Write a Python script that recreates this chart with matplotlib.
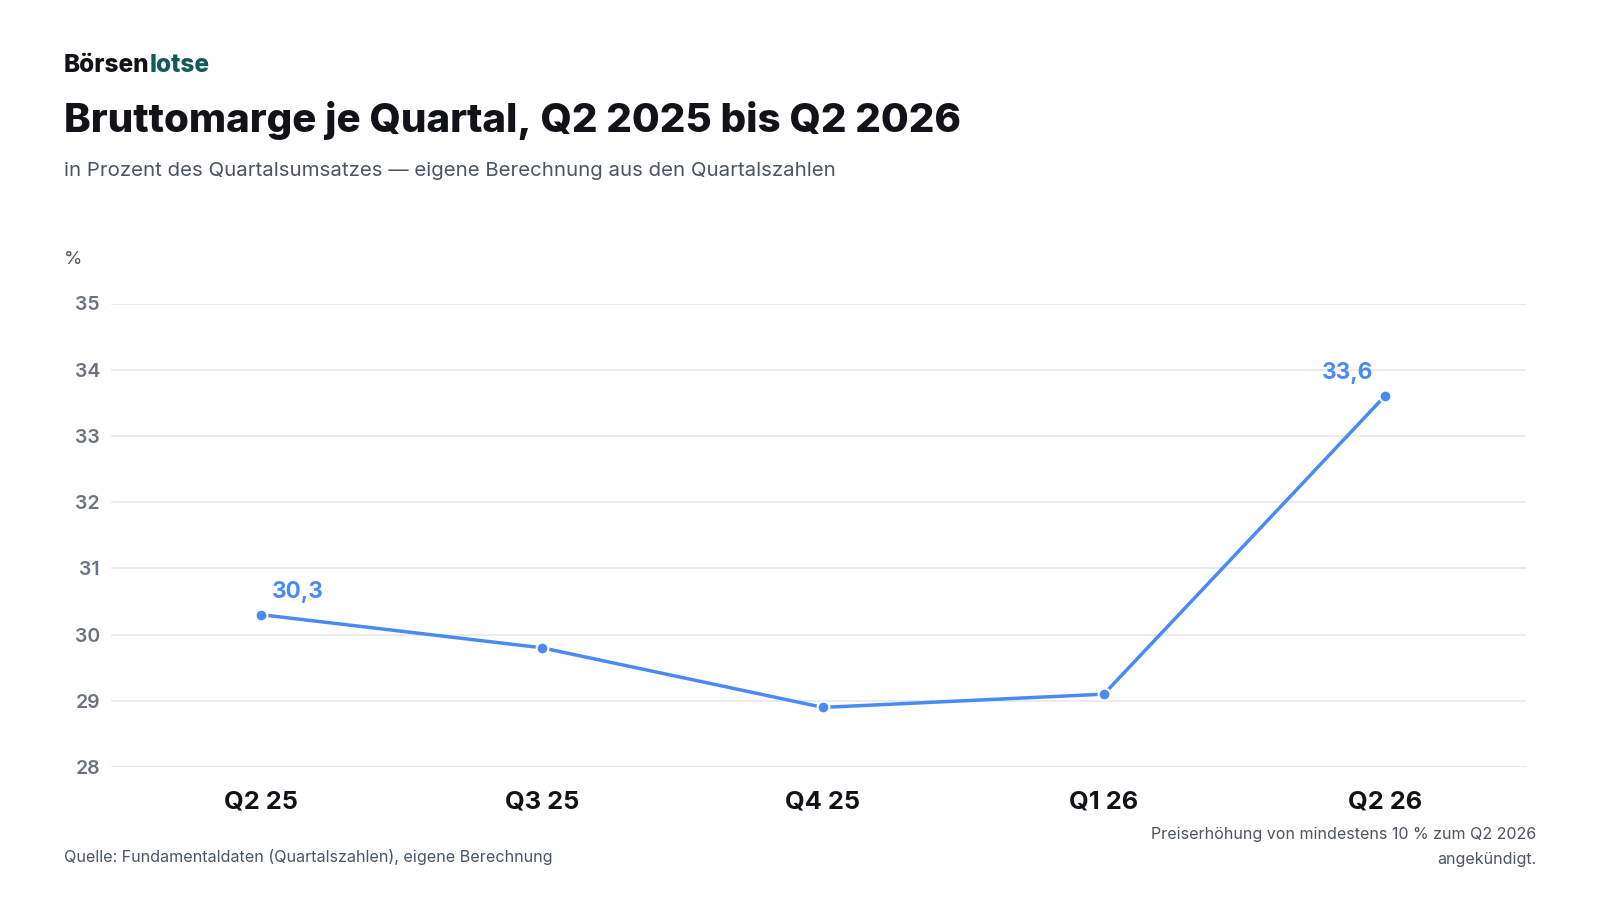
import matplotlib.pyplot as plt

plt.rcParams['font.family'] = ['Inter', 'DejaVu Sans']

# Bruttomarge je Quartal (in %)
quarters = ['Q2 25', 'Q3 25', 'Q4 25', 'Q1 26', 'Q2 26']
margin = [30.3, 29.8, 28.9, 29.1, 33.6]
y_ticks = [28, 29, 30, 31, 32, 33, 34, 35]

# only first and last point get a value label
label_idx = [0, 4]

blue = '#4a8af4'
grey = '#6b7280'
text_grey = '#4b5563'
dark = '#111318'

W, H = 1600, 900


def fx(px):
    return px / W


def fy(py):
    return 1 - py / H


fig = plt.figure(figsize=(16, 9), dpi=100)
ax = fig.add_axes([fx(111), fy(767), fx(1526) - fx(111), fy(303.5) - fy(767)])

x = list(range(len(quarters)))
ax.plot(x, margin, color=blue, lw=2.5, zorder=3, solid_capstyle='round')
ax.plot(x, margin, 'o', color=blue, ms=8.5, mec='white', mew=1.5, zorder=4)

ax.set_xlim(-0.535, 4.503)
ax.set_ylim(28, 35)
ax.set_yticks(y_ticks)
ax.set_yticklabels([str(v) for v in y_ticks])
ax.set_xticks(x)
ax.set_xticklabels(quarters, fontsize=18.3, fontweight='bold', color=dark)
ax.tick_params(axis='y', length=0, pad=8, labelsize=14, labelcolor=grey)
ax.tick_params(axis='x', length=0, pad=17)
for lab in ax.get_yticklabels():
    lab.set_fontweight('semibold')

ax.grid(axis='y', color='#e5e7eb', lw=1.2)
ax.set_axisbelow(True)
for s in ax.spines.values():
    s.set_visible(False)

# value labels
offsets = {0: (37, 23), 4: (-37, 23)}
for i in label_idx:
    dx, dy = offsets[i]
    ax.annotate(f'{margin[i]:.1f}'.replace('.', ','), (x[i], margin[i]),
                xytext=(dx * 0.72, dy * 0.72), textcoords='offset points',
                ha='center', va='center', fontsize=16.3, fontweight='bold',
                color=blue)

# header
b1 = fig.text(fx(64), fy(65), 'Börsen', fontsize=17.5, fontweight='heavy',
              color=dark, va='center', ha='left')
fig.canvas.draw()
bb = b1.get_window_extent()
fig.text(bb.x1 / W, fy(65), 'lotse', fontsize=17.5, fontweight='heavy',
         color='#0f5a5a', va='center', ha='left')
fig.text(fx(64), fy(121), 'Bruttomarge je Quartal, Q2 2025 bis Q2 2026',
         fontsize=29.0, fontweight='heavy', color=dark, va='center', ha='left')
fig.text(fx(64), fy(170.5),
         'in Prozent des Quartalsumsatzes — eigene Berechnung aus den Quartalszahlen',
         fontsize=14.7, color=text_grey, va='center', ha='left')
fig.text(fx(64), fy(259), '%', fontsize=13.5, color=text_grey,
         va='center', ha='left')

# footer
fig.text(fx(64), fy(857),
         'Quelle: Fundamentaldaten (Quartalszahlen), eigene Berechnung',
         fontsize=11.6, color=text_grey, va='center', ha='left')
fig.text(fx(1536), fy(847),
         'Preiserhöhung von mindestens 10 % zum Q2 2026\nangekündigt.',
         fontsize=11.55, color=text_grey, va='center', ha='right',
         linespacing=1.8, multialignment='right')

fig.savefig('out.png', dpi=100, facecolor='white')
